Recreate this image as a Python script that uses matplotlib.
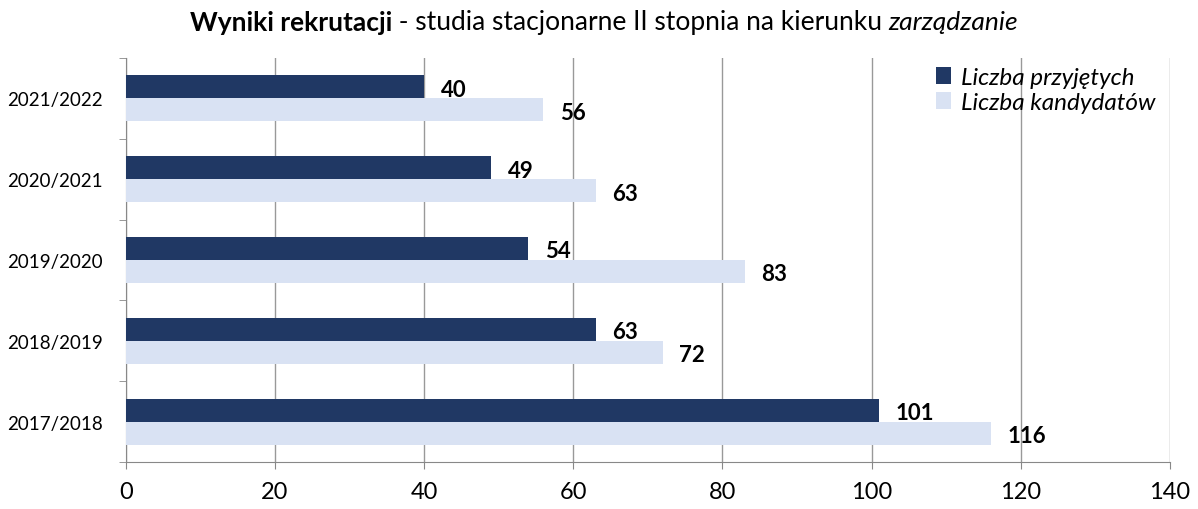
import matplotlib.pyplot as plt
import numpy as np

plt.rcParams['font.family'] = ['Lato', 'DejaVu Sans']

years = ["2017/2018", "2018/2019", "2019/2020", "2020/2021", "2021/2022"]
accepted = [101, 63, 54, 49, 40]
candidates = [116, 72, 83, 63, 56]

dark = "#203864"
light = "#D9E2F3"

fig = plt.figure(figsize=(11.98, 5.10), dpi=100)
ax = fig.add_axes([0.105, 0.0922, 0.8715, 0.7921])

y = np.arange(len(years))
h = 0.285
b1 = ax.barh(y + h / 2, accepted, height=h, color=dark, label="Liczba przyjętych", zorder=3)
b2 = ax.barh(y - h / 2, candidates, height=h, color=light, label="Liczba kandydatów", zorder=3)

for bars, vals in [(b1, accepted), (b2, candidates)]:
    for bar, v in zip(bars, vals):
        ax.text(v + 2.2, bar.get_y() + bar.get_height() / 2 - 0.03, str(v),
                va="center", ha="left", fontsize=16, fontweight="bold", zorder=4)

ax.set_xlim(0, 140)
ax.set_ylim(-0.5, 4.5)
ax.set_xticks(range(0, 141, 20))
ax.set_yticks(y)
ax.set_yticklabels(years, fontsize=13.5)
ax.set_yticks(np.arange(-0.5, 5, 1), minor=True)
ax.tick_params(axis="y", which="major", length=0, pad=16.5)
ax.tick_params(axis="y", which="minor", length=5, color="#888888")
ax.tick_params(axis="x", length=5, color="#888888", labelsize=17, pad=9)
ax.xaxis.grid(True, color="#999999", linewidth=1, zorder=0)

for s in ["top", "right"]:
    ax.spines[s].set_visible(False)
for s in ["left", "bottom"]:
    ax.spines[s].set_color("#888888")

ax.legend(loc="upper right", bbox_to_anchor=(1.0, 1.015), frameon=False,
          prop={"style": "italic", "size": 17.5}, handlelength=0.6, handleheight=0.75,
          handletextpad=0.4, labelspacing=0.15, borderaxespad=0.2)

# title with mixed styles
ty = 0.955
t1 = fig.text(0.15, ty, "Wyniki rekrutacji", fontsize=19, fontweight="bold", va="center")
t2 = fig.text(0, ty, " - studia stacjonarne II stopnia na kierunku ", fontsize=19, va="center")
t3 = fig.text(0, ty, "zarządzanie", fontsize=19, style="italic", va="center")
fig.canvas.draw()
r = fig.canvas.get_renderer()
w1 = t1.get_window_extent(r).width
w2 = t2.get_window_extent(r).width
w3 = t3.get_window_extent(r).width
W = fig.bbox.width
x0 = 604 - (w1 + w2 + w3) / 2
t1.set_x(x0 / W)
t2.set_x((x0 + w1) / W)
t3.set_x((x0 + w1 + w2) / W)

fig.savefig("out.png", dpi=100)
